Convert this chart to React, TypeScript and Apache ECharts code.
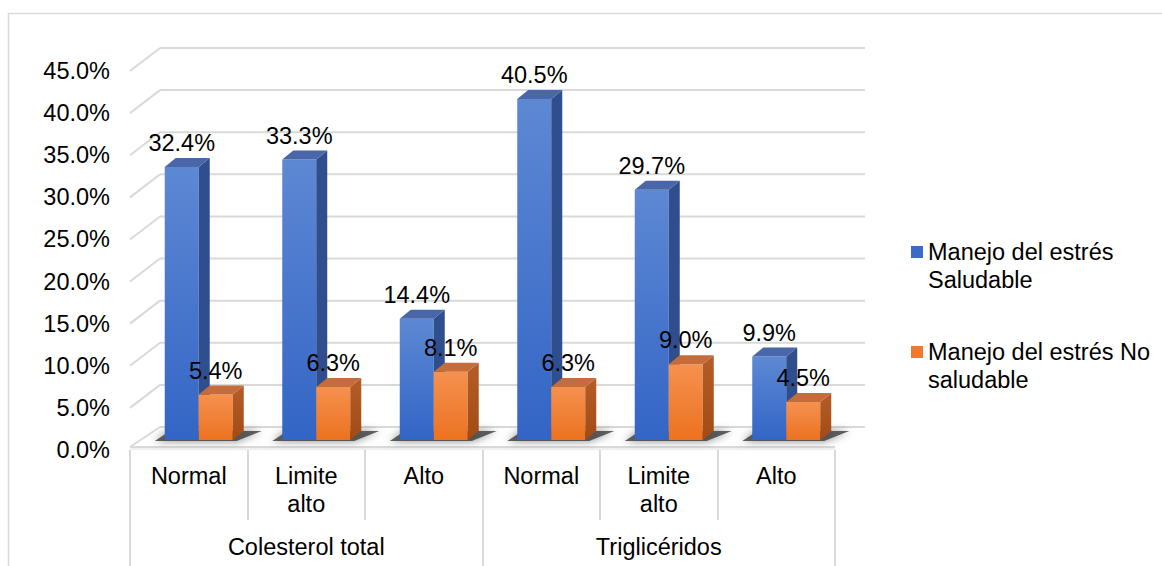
import React, { useEffect, useRef } from "react";
import * as echarts from "echarts";

// Subcategories along the floor and the two groups beneath them
const categories = ["Normal", "Limite\nalto", "Alto", "Normal", "Limite\nalto", "Alto"];
const groups = ["Colesterol total", "Triglicéridos"];

// Percentages per subcategory
const saludable = [32.4, 33.3, 14.4, 40.5, 29.7, 9.9];
const noSaludable = [5.4, 6.3, 8.1, 6.3, 9.0, 4.5];

const seriesNames = ["Manejo del estrés Saludable", "Manejo del estrés No saludable"];
const legendLabels = ["Manejo del estrés\nSaludable", "Manejo del estrés No\nsaludable"];

// Value-axis ticks (also used for the back-wall gridlines)
const gridValues = [0, 5, 10, 15, 20, 25, 30, 35, 40, 45];

const FONT = "'Liberation Sans', Arial, sans-serif";
const FS = 23.5;

// Oblique 3D projection settings
const WALL_DX = 30;
const WALL_DY = -23;
const BAR_OX = 10;
const BAR_OY = -10;
const BAR_W = 34;
const BAR_DX = 11;
const BAR_DY = -9;

// Legend marker: a square at the top of a taller box so it sits beside the first text line
const LEGEND_ICON = "path://M0,0H12V12H0ZM0,39.99H0.01V40H0Z";

const palette = {
  blue: {
    front: new echarts.graphic.LinearGradient(0, 0, 0, 1, [
      { offset: 0, color: "#5d88d3" },
      { offset: 1, color: "#3365c6" },
    ]),
    side: "#2f4e8e",
    top: "#4866a8",
    legend: "#3a6bc9",
  },
  orange: {
    front: new echarts.graphic.LinearGradient(0, 0, 0, 1, [
      { offset: 0, color: "#f5914f" },
      { offset: 1, color: "#ec7220" },
    ]),
    side: new echarts.graphic.LinearGradient(0, 0, 0, 1, [
      { offset: 0, color: "#b55d27" },
      { offset: 1, color: "#a34b14" },
    ]),
    top: "#c46d3a",
    legend: "#ef7a2c",
  },
};

function makeBarRenderer(kind: "blue" | "orange") {
  const col = palette[kind];
  return (params: any, api: any) => {
    const idx = api.value(0);
    const v = api.value(1);
    const [cx, yTop0] = api.coord([idx, v]);
    const yBase0 = api.coord([idx, 0])[1];
    const xL = kind === "blue" ? cx + BAR_OX - BAR_W : cx + BAR_OX;
    const xR = xL + BAR_W;
    const yT = yTop0 + BAR_OY;
    const yB = yBase0 + BAR_OY;
    const children: any[] = [];
    if (kind === "blue") {
      // soft floor shadow under the pair of bars
      const pr = xR + BAR_W;
      children.push({
        type: "polygon",
        z2: -5,
        shape: {
          points: [
            [xL - 10, yB + 1],
            [pr + 4, yB + 1],
            [pr + BAR_DX + 18, yB + BAR_DY],
            [xL + BAR_DX - 6, yB + BAR_DY],
          ],
        },
        style: {
          fill: "rgba(60,60,60,0.8)",
          shadowBlur: 9,
          shadowColor: "rgba(0,0,0,0.6)",
        },
      });
    }
    children.push(
      {
        type: "rect",
        shape: { x: xL, y: yT, width: BAR_W, height: yB - yT },
        style: { fill: col.front },
      },
      {
        type: "polygon",
        shape: {
          points: [
            [xR, yB],
            [xR, yT],
            [xR + BAR_DX, yT + BAR_DY],
            [xR + BAR_DX, yB + BAR_DY],
          ],
        },
        style: { fill: col.side },
      },
      {
        type: "polygon",
        shape: {
          points: [
            [xL, yT],
            [xR, yT],
            [xR + BAR_DX, yT + BAR_DY],
            [xL + BAR_DX, yT + BAR_DY],
          ],
        },
        style: { fill: col.top },
      },
      {
        type: "text",
        z2: 100,
        style: {
          x: xL + BAR_W / 2,
          y: yT - 24,
          text: v.toFixed(1) + "%",
          align: "center",
          verticalAlign: "middle",
          fontSize: FS,
          fontFamily: FONT,
          fill: "#000",
        },
      }
    );
    return { type: "group", children };
  };
}

function renderWall(params: any, api: any) {
  const cs = params.coordSys;
  const x0 = cs.x;
  const x1 = cs.x + cs.width;
  const v = api.value(1);
  const y = api.coord([0, v])[1];
  const line = { stroke: "#d9d9d9", lineWidth: 2 };
  if (v === 0) {
    // floor: white top surface with a thin front slab
    return {
      type: "group",
      children: [
        {
          type: "polygon",
          z2: -10,
          shape: {
            points: [
              [x0, y - 2],
              [x1, y - 2],
              [x1 + WALL_DX, y + WALL_DY],
              [x0 + WALL_DX, y + WALL_DY],
            ],
          },
          style: { fill: "#ffffff" },
        },
        {
          type: "rect",
          z2: -9,
          shape: { x: x0, y: y - 3, width: cs.width, height: 3 },
          style: { fill: "#f0f0f0" },
        },
        {
          type: "line",
          z2: -9,
          shape: { x1: x0, y1: y - 3, x2: x1, y2: y - 3 },
          style: line,
        },
        {
          type: "line",
          z2: -9,
          shape: { x1: x0, y1: y - 3, x2: x0 + WALL_DX, y2: y + WALL_DY },
          style: line,
        },
        {
          type: "line",
          z2: -9,
          shape: { x1: x0 + WALL_DX, y1: y + WALL_DY, x2: x1 + WALL_DX, y2: y + WALL_DY },
          style: line,
        },
      ],
    };
  }
  return {
    type: "group",
    children: [
      {
        type: "line",
        z2: -10,
        shape: { x1: x0, y1: y, x2: x0 + WALL_DX, y2: y + WALL_DY },
        style: line,
      },
      {
        type: "line",
        z2: -10,
        shape: { x1: x0 + WALL_DX, y1: y + WALL_DY, x2: x1 + WALL_DX, y2: y + WALL_DY },
        style: line,
      },
    ],
  };
}

export default function App() {
  const ref = useRef<HTMLDivElement>(null);

  useEffect(() => {
    if (!ref.current) return;
    const chart = echarts.init(ref.current, undefined, { renderer: "svg" });
    const tickStyle = { color: "#d9d9d9", width: 2 };
    chart.setOption({
      animation: false,
      backgroundColor: "#ffffff",
      textStyle: { fontFamily: FONT },
      graphic: [
        {
          type: "rect",
          silent: true,
          shape: { x: 8.5, y: 13.5, width: 1175, height: 580 },
          style: { fill: "none", stroke: "#d9d9d9", lineWidth: 1.5 },
        },
      ],
      grid: { left: 130, right: 327, top: 71, bottom: 116 },
      legend: {
        orient: "vertical",
        left: 911,
        top: 238,
        padding: 0,
        itemWidth: 12,
        itemHeight: 40,
        itemGap: 44,
        icon: LEGEND_ICON,
        data: seriesNames,
        formatter: (name: string) => legendLabels[seriesNames.indexOf(name)],
        textStyle: {
          fontSize: FS,
          lineHeight: 28,
          color: "#000",
          fontFamily: FONT,
        },
        selectedMode: false,
      },
      xAxis: [
        {
          type: "category",
          data: categories,
          position: "bottom",
          axisLine: { show: false },
          axisTick: { show: true, length: 70, interval: 0, lineStyle: tickStyle },
          axisLabel: {
            interval: 0,
            fontSize: FS,
            lineHeight: 28,
            margin: 12,
            color: "#000",
            fontFamily: FONT,
          },
        },
        {
          type: "category",
          data: groups,
          position: "bottom",
          offset: 70,
          axisLine: { show: false },
          axisTick: { show: true, length: 60, interval: 0, lineStyle: tickStyle },
          axisLabel: {
            interval: 0,
            fontSize: FS,
            margin: 15,
            color: "#000",
            fontFamily: FONT,
          },
        },
      ],
      yAxis: {
        type: "value",
        min: 0,
        max: 45,
        interval: 5,
        axisLine: { show: false },
        axisTick: { show: false },
        splitLine: { show: false },
        axisLabel: {
          margin: 20,
          fontSize: FS,
          color: "#000",
          fontFamily: FONT,
          formatter: (v: number) => v.toFixed(1) + "%",
        },
      },
      series: [
        {
          type: "custom",
          name: "wall",
          silent: true,
          xAxisIndex: 0,
          data: gridValues.map((v) => [0, v]),
          renderItem: renderWall,
        },
        {
          type: "custom",
          name: seriesNames[0],
          xAxisIndex: 0,
          itemStyle: { color: palette.blue.legend },
          data: saludable.map((v, i) => [i, v]),
          renderItem: makeBarRenderer("blue"),
        },
        {
          type: "custom",
          name: seriesNames[1],
          xAxisIndex: 0,
          itemStyle: { color: palette.orange.legend },
          data: noSaludable.map((v, i) => [i, v]),
          renderItem: makeBarRenderer("orange"),
        },
      ],
    });
    return () => chart.dispose();
  }, []);

  return (
    <div
      ref={ref}
      style={{ position: "absolute", left: 0, top: 0, width: 1162, height: 566 }}
    />
  );
}
